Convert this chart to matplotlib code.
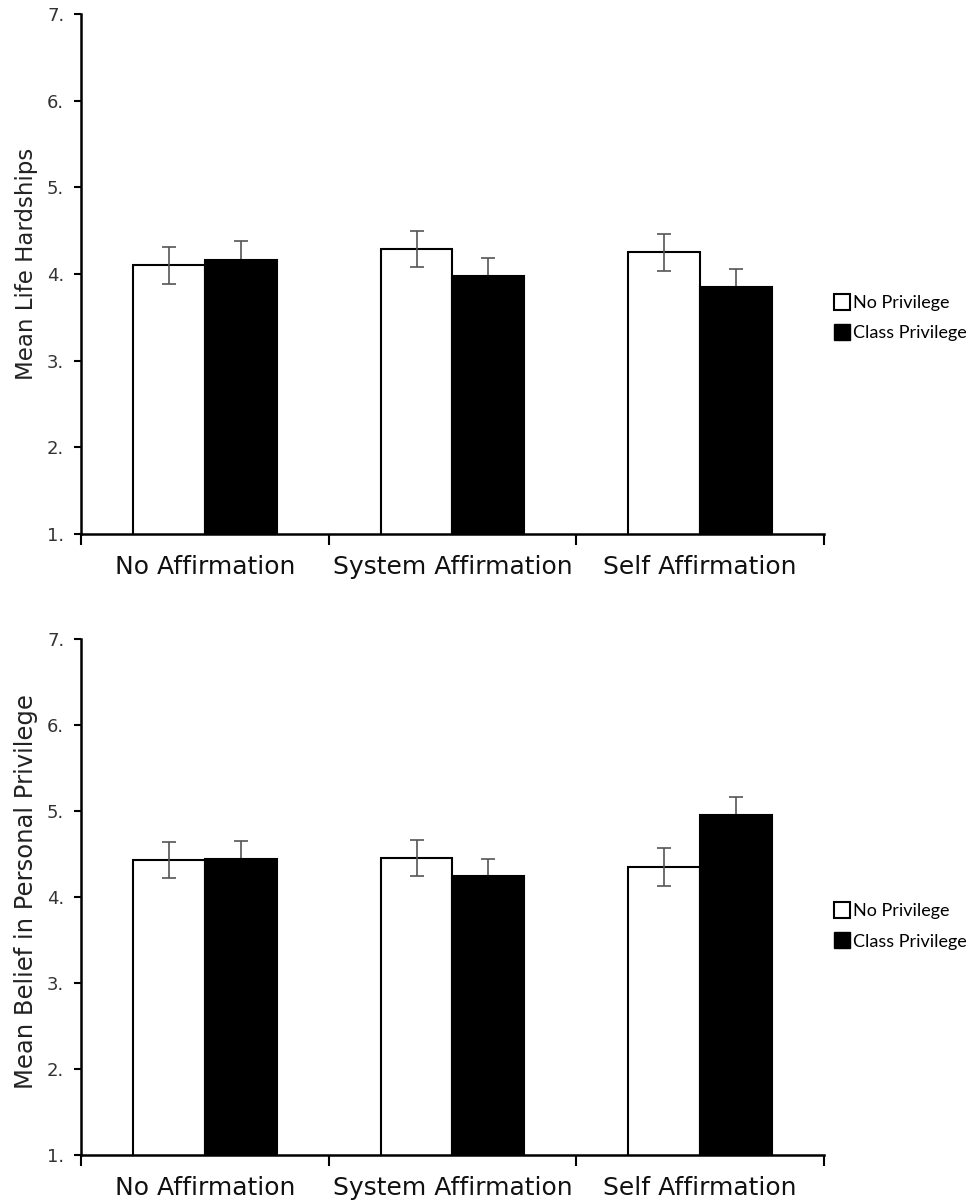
import numpy as np
import matplotlib.pyplot as plt
from matplotlib.lines import Line2D

# data
conditions = ["No Affirmation", "System Affirmation", "Self Affirmation"]
groups = ["No Privilege", "Class Privilege"]

hardship_none = [4.10, 4.29, 4.25]
hardship_class = [4.16, 3.98, 3.85]
hardship_none_err = [0.21, 0.21, 0.21]
hardship_class_err = [0.22, 0.20, 0.21]

belief_none = [4.43, 4.45, 4.35]
belief_class = [4.44, 4.24, 4.95]
belief_none_err = [0.21, 0.21, 0.22]
belief_class_err = [0.21, 0.20, 0.21]

yticks = [1, 2, 3, 4, 5, 6, 7]
ytick_labels = ["1.", "2.", "3.", "4.", "5.", "6.", "7."]

fig = plt.figure(figsize=(9.72, 12.02), dpi=100)
ax1 = fig.add_axes([0.0833, 0.5557, 0.7644, 0.4326])
ax2 = fig.add_axes([0.0833, 0.0391, 0.7644, 0.4293])

x = np.arange(len(conditions))
w = 0.29


def draw(ax, v1, v2, e1, e2, ylabel, ylabel_size, leg_y, label_y):
    ax.bar(x - w / 2, v1, w, color="white", edgecolor="black", linewidth=1.5, zorder=2)
    ax.bar(x + w / 2, v2, w, color="black", edgecolor="black", linewidth=1.5, zorder=2)
    # white bars: whole error bar visible; black bars: lower half hidden by the bar
    ax.errorbar(x - w / 2, v1, yerr=e1, fmt="none", ecolor="#555555", elinewidth=1.2, capsize=5, capthick=1.2, zorder=3)
    ax.errorbar(x + w / 2, v2, yerr=e2, fmt="none", ecolor="#555555", elinewidth=1.2, capsize=5, capthick=1.2, zorder=1)
    ax.set_ylim(1, 7)
    ax.set_xlim(-0.5, 2.5)
    ax.set_yticks(yticks)
    ax.set_yticklabels(ytick_labels, color="#333333", fontsize=13)
    ax.set_xticks(x)
    ax.set_xticklabels(conditions, fontsize=18, color="#111111")
    ax.set_xticks([-0.5, 0.5, 1.5, 2.5], minor=True)
    ax.tick_params(axis="x", which="major", length=0, pad=15)
    ax.tick_params(axis="x", which="minor", length=8, width=1.5, direction="out")
    ax.tick_params(axis="y", length=5, width=1.5, pad=7)
    for s in ["top", "right"]:
        ax.spines[s].set_visible(False)
    for s in ["left", "bottom"]:
        ax.spines[s].set_linewidth(1.8)
    ax.set_ylabel(ylabel, fontsize=ylabel_size, color="#222222")
    ax.yaxis.set_label_coords(-0.058, label_y)
    handles = [
        Line2D([], [], marker="s", linestyle="none", markersize=11, markerfacecolor="white", markeredgecolor="black", markeredgewidth=1.5),
        Line2D([], [], marker="s", linestyle="none", markersize=11, markerfacecolor="black", markeredgecolor="black"),
    ]
    ax.legend(handles, groups, loc="center left", bbox_to_anchor=(0.99, leg_y), frameon=False,
              prop={"family": "Lato", "size": 13}, handletextpad=0.1, labelspacing=0.8, handlelength=1.0)


draw(ax1, hardship_none, hardship_class, hardship_none_err, hardship_class_err,
     "Mean Life Hardships", 16.5, 0.415, 0.52)
draw(ax2, belief_none, belief_class, belief_none_err, belief_class_err,
     "Mean Belief in Personal Privilege", 17.5, 0.443, 0.51)

fig.savefig("out.png", dpi=100)
